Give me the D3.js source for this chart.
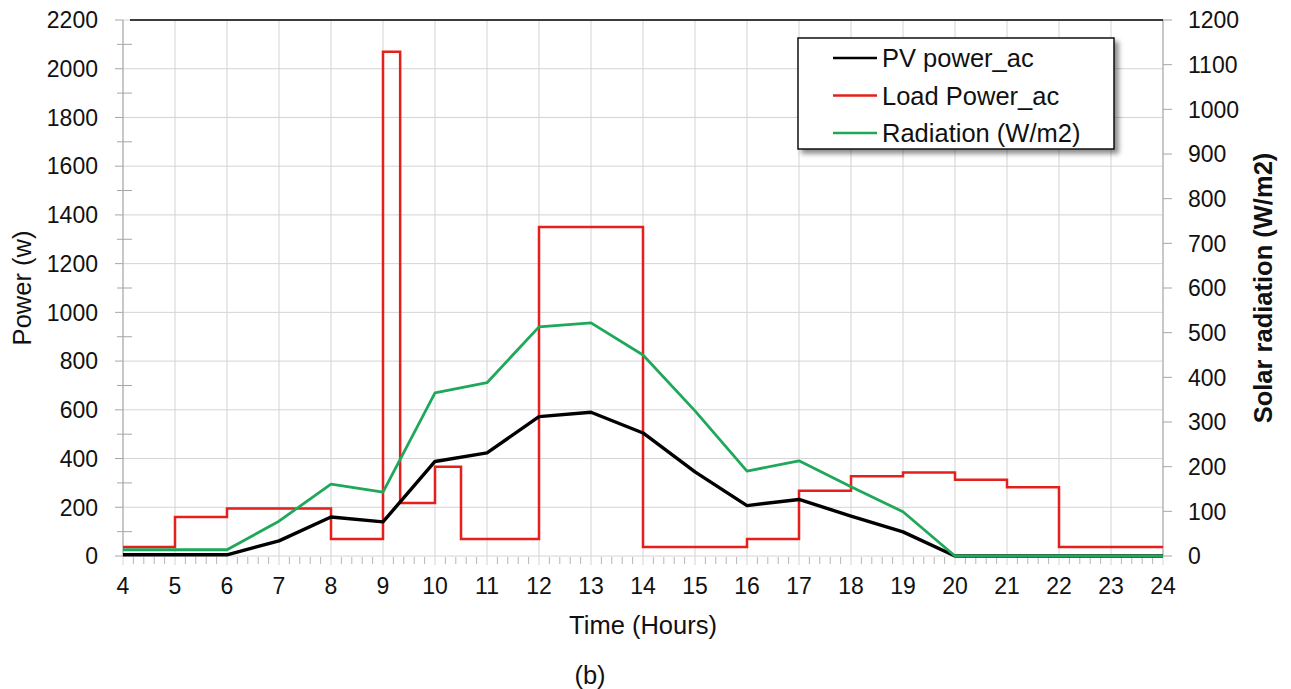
<!DOCTYPE html>
<html>
<head>
<meta charset="utf-8">
<script src="https://cdn.jsdelivr.net/npm/d3@7/dist/d3.min.js"></script>
<style>
  html, body { margin: 0; padding: 0; background: #fff; }
  svg { display: block; font-family: "Liberation Sans", Arial, sans-serif; }
</style>
</head>
<body>
<svg id="chart" width="1291" height="689"></svg>
<script>
// Time of day (hours)
const hourTicks = d3.range(4, 25, 1);
const powerTicks = d3.range(0, 2201, 200);
const radiationTicks = d3.range(0, 1201, 100);

// PV output power (W), sampled at the breakpoints of the profile
const pvHours = [4, 6, 7, 8, 9, 10, 11, 12, 13, 14, 15, 16, 17, 18, 19, 20, 24];
const pvWatts = [5, 5, 62, 160, 140, 388, 423, 572, 590, 505, 345, 207, 232, 164, 99, 0, 0];

// Solar radiation (W/m2)
const radHours = [4, 6, 7, 8, 9, 10, 11, 12, 13, 14, 15, 16, 17, 18, 19, 20, 24];
const radWm2 = [14, 14, 78, 161, 143, 365, 388, 513, 522, 450, 325, 190, 213, 155, 99, 0, 0];

// Load demand (W), constant over each interval starting at loadHours[i]
const loadHours = [4, 5, 6, 8, 9, 9.33, 10, 10.5, 12, 14, 16, 17, 18, 19, 20, 21, 22, 24];
const loadWatts = [37, 160, 195, 70, 2070, 218, 366, 70, 1350, 37, 70, 268, 327, 343, 313, 282, 37, 37];

const seriesNames = ["PV power_ac", "Load Power_ac", "Radiation (W/m2)"];
const seriesColors = ["#000000", "#e3201b", "#1fa85a"];

const svg = d3.select("#chart");
const margin = { top: 20, right: 128, bottom: 133, left: 123 };
const W = 1291 - margin.left - margin.right;
const H = 689 - margin.top - margin.bottom;

const x = d3.scaleLinear().domain([4, 24]).range([0, W]);
const yL = d3.scaleLinear().domain([0, 2200]).range([H, 0]);
const yR = d3.scaleLinear().domain([0, 1200]).range([H, 0]);

const defs = svg.append("defs");
const f = defs.append("filter").attr("id", "shadow").attr("x", "-10%").attr("y", "-10%").attr("width", "130%").attr("height", "140%");
f.append("feDropShadow").attr("dx", 4).attr("dy", 4).attr("stdDeviation", 2.5).attr("flood-color", "#000").attr("flood-opacity", 0.45);

const g = svg.append("g").attr("transform", `translate(${margin.left},${margin.top})`);

const gridColor = "#d4d4d4";
const axisColor = "#a6a6a6";
const tickFont = 23;
const titleFont = 25.5;

// Horizontal gridlines
g.append("g").selectAll("line").data(powerTicks).join("line")
  .attr("x1", 0).attr("x2", W)
  .attr("y1", d => yL(d)).attr("y2", d => yL(d))
  .attr("stroke", gridColor).attr("stroke-width", 1);

// Vertical gridlines (extend slightly below the axis as major ticks)
g.append("g").selectAll("line").data(hourTicks).join("line")
  .attr("x1", d => x(d)).attr("x2", d => x(d))
  .attr("y1", 0).attr("y2", H + 9)
  .attr("stroke", gridColor).attr("stroke-width", 1);

// Minor x ticks every 0.2 h
const minorX = d3.range(4, 24.001, 0.2).filter(h => Math.abs(h - Math.round(h)) > 1e-6);
g.append("g").selectAll("line").data(minorX).join("line")
  .attr("x1", d => x(d)).attr("x2", d => x(d))
  .attr("y1", H + 1).attr("y2", H + 8)
  .attr("stroke", "#b5b5b5").attr("stroke-width", 1);

// Left axis line + ticks
g.append("line").attr("x1", 0).attr("x2", 0).attr("y1", 0).attr("y2", H)
  .attr("stroke", axisColor).attr("stroke-width", 1);
g.append("g").selectAll("line").data(powerTicks).join("line")
  .attr("x1", -8).attr("x2", 0).attr("y1", d => yL(d)).attr("y2", d => yL(d))
  .attr("stroke", axisColor);
const minorY = d3.range(100, 2200, 200);
g.append("g").selectAll("line").data(minorY).join("line")
  .attr("x1", -6).attr("x2", 9).attr("y1", d => yL(d)).attr("y2", d => yL(d))
  .attr("stroke", axisColor);

// Right axis line + ticks
g.append("line").attr("x1", W).attr("x2", W).attr("y1", 0).attr("y2", H)
  .attr("stroke", axisColor).attr("stroke-width", 1);
g.append("g").selectAll("line").data(radiationTicks).join("line")
  .attr("x1", W).attr("x2", W + 9).attr("y1", d => yR(d)).attr("y2", d => yR(d))
  .attr("stroke", axisColor);

// Top border
g.append("line").attr("x1", 7).attr("x2", W).attr("y1", 0).attr("y2", 0)
  .attr("stroke", "#000").attr("stroke-width", 1.5);

// Tick labels
g.append("g").selectAll("text").data(powerTicks).join("text")
  .attr("x", -25).attr("y", d => yL(d)).attr("dy", "0.36em")
  .attr("text-anchor", "end").attr("font-size", tickFont).attr("fill", "#111")
  .text(d => d);
g.append("g").selectAll("text").data(radiationTicks).join("text")
  .attr("x", W + 25).attr("y", d => yR(d)).attr("dy", "0.36em")
  .attr("text-anchor", "start").attr("font-size", tickFont).attr("fill", "#111")
  .text(d => d);
g.append("g").selectAll("text").data(hourTicks).join("text")
  .attr("x", d => x(d)).attr("y", H + 38)
  .attr("text-anchor", "middle").attr("font-size", tickFont).attr("fill", "#111")
  .text(d => d);

// Axis titles
svg.append("text").attr("transform", `translate(31,${margin.top + H / 2}) rotate(-90)`)
  .attr("text-anchor", "middle").attr("font-size", titleFont).attr("fill", "#111").text("Power (w)");
svg.append("text").attr("transform", `translate(1272,${margin.top + H / 2}) rotate(-90)`)
  .attr("text-anchor", "middle").attr("font-size", titleFont).attr("font-weight", "bold").attr("fill", "#111")
  .text("Solar radiation (W/m2)");
svg.append("text").attr("x", margin.left + W / 2).attr("y", 634)
  .attr("text-anchor", "middle").attr("font-size", titleFont).attr("fill", "#111").text("Time (Hours)");
svg.append("text").attr("x", 590).attr("y", 684)
  .attr("text-anchor", "middle").attr("font-size", titleFont).attr("fill", "#111").text("(b)");

// Series
const loadLine = d3.line().x((d, i) => x(loadHours[i])).y(d => yL(d)).curve(d3.curveStepAfter);
const pvLine = d3.line().x((d, i) => x(pvHours[i])).y(d => yL(d));
const radLine = d3.line().x((d, i) => x(radHours[i])).y(d => yR(d));

g.append("path").attr("d", loadLine(loadWatts))
  .attr("fill", "none").attr("stroke", seriesColors[1]).attr("stroke-width", 2.5)
  .attr("stroke-linejoin", "miter");
g.append("path").attr("d", pvLine(pvWatts))
  .attr("fill", "none").attr("stroke", seriesColors[0]).attr("stroke-width", 3.4)
  .attr("stroke-linejoin", "round");
g.append("path").attr("d", radLine(radWm2))
  .attr("fill", "none").attr("stroke", seriesColors[2]).attr("stroke-width", 2.8)
  .attr("stroke-linejoin", "round");

// Legend
const lg = svg.append("g").attr("transform", "translate(798,38)");
lg.append("rect").attr("width", 316).attr("height", 111)
  .attr("fill", "#fff").attr("stroke", "#111").attr("stroke-width", 1.5)
  .attr("filter", "url(#shadow)");
const rows = lg.selectAll("g.row").data(seriesNames).join("g").attr("class", "row")
  .attr("transform", (d, i) => `translate(0,${20 + i * 37.5})`);
rows.append("line").attr("x1", 35).attr("x2", 79).attr("y1", 0).attr("y2", 0)
  .attr("stroke", (d, i) => seriesColors[i]).attr("stroke-width", 2.5);
rows.append("text").attr("x", 84).attr("y", 0).attr("dy", "0.36em")
  .attr("font-size", titleFont).attr("fill", "#111").text(d => d);
</script>
</body>
</html>
